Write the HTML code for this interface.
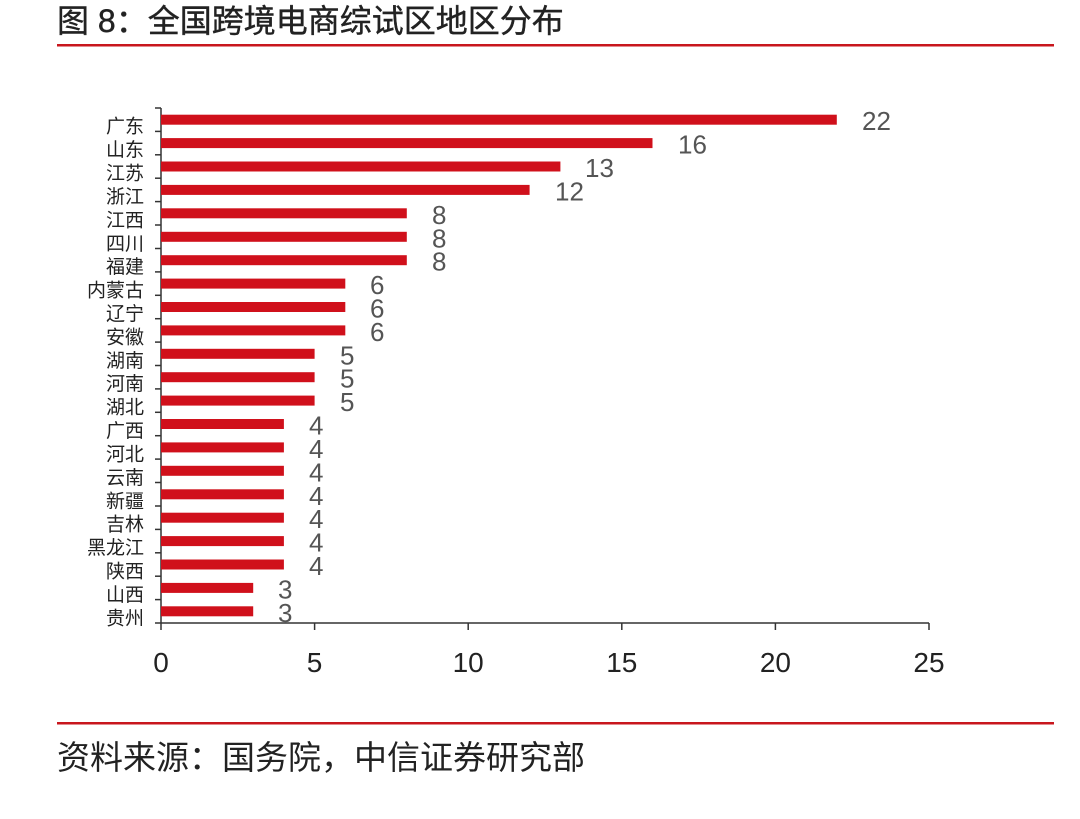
<!DOCTYPE html>
<html><head><meta charset="utf-8"><style>
body{margin:0;background:#fff;}
svg{display:block;}
</style></head><body>
<svg width="1080" height="819" xmlns="http://www.w3.org/2000/svg" font-family="'Liberation Sans','Noto Sans CJK SC',sans-serif">
<rect width="1080" height="819" fill="#fff"/>
<text x="57" y="32" font-size="32" fill="#222" stroke="#222" stroke-width="0.4">图 8：全国跨境电商综试区地区分布</text>
<rect x="57" y="44" width="997" height="2.5" fill="#c8161d"/>
<g stroke="#333" stroke-width="1.5">
<line x1="161" y1="108" x2="161" y2="623"/>
<line x1="161" y1="623" x2="929" y2="623"/>
<line x1="155" y1="108" x2="161" y2="108"/><line x1="155" y1="131.4" x2="161" y2="131.4"/><line x1="155" y1="154.8" x2="161" y2="154.8"/><line x1="155" y1="178.2" x2="161" y2="178.2"/><line x1="155" y1="201.6" x2="161" y2="201.6"/><line x1="155" y1="225.0" x2="161" y2="225.0"/><line x1="155" y1="248.5" x2="161" y2="248.5"/><line x1="155" y1="271.9" x2="161" y2="271.9"/><line x1="155" y1="295.3" x2="161" y2="295.3"/><line x1="155" y1="318.7" x2="161" y2="318.7"/><line x1="155" y1="342.1" x2="161" y2="342.1"/><line x1="155" y1="365.5" x2="161" y2="365.5"/><line x1="155" y1="388.9" x2="161" y2="388.9"/><line x1="155" y1="412.3" x2="161" y2="412.3"/><line x1="155" y1="435.7" x2="161" y2="435.7"/><line x1="155" y1="459.1" x2="161" y2="459.1"/><line x1="155" y1="482.5" x2="161" y2="482.5"/><line x1="155" y1="506.0" x2="161" y2="506.0"/><line x1="155" y1="529.4" x2="161" y2="529.4"/><line x1="155" y1="552.8" x2="161" y2="552.8"/><line x1="155" y1="576.2" x2="161" y2="576.2"/><line x1="155" y1="599.6" x2="161" y2="599.6"/><line x1="155" y1="623" x2="161" y2="623"/>
<line x1="161" y1="623" x2="161" y2="630"/><line x1="314.6" y1="623" x2="314.6" y2="630"/><line x1="468.2" y1="623" x2="468.2" y2="630"/><line x1="621.8" y1="623" x2="621.8" y2="630"/><line x1="775.4" y1="623" x2="775.4" y2="630"/><line x1="929" y1="623" x2="929" y2="630"/>
</g>
<g font-size="28" fill="#222" text-anchor="middle">
<text x="161" y="672">0</text><text x="314.6" y="672">5</text><text x="468.2" y="672">10</text><text x="621.8" y="672">15</text><text x="775.4" y="672">20</text><text x="929" y="672">25</text>
</g>
<g fill="#d0101b">
<rect x="161" y="114.7" width="675.8" height="10"/>
<rect x="161" y="138.1" width="491.5" height="10"/>
<rect x="161" y="161.5" width="399.4" height="10"/>
<rect x="161" y="184.9" width="368.6" height="10"/>
<rect x="161" y="208.3" width="245.8" height="10"/>
<rect x="161" y="231.8" width="245.8" height="10"/>
<rect x="161" y="255.2" width="245.8" height="10"/>
<rect x="161" y="278.6" width="184.3" height="10"/>
<rect x="161" y="302.0" width="184.3" height="10"/>
<rect x="161" y="325.4" width="184.3" height="10"/>
<rect x="161" y="348.8" width="153.6" height="10"/>
<rect x="161" y="372.2" width="153.6" height="10"/>
<rect x="161" y="395.6" width="153.6" height="10"/>
<rect x="161" y="419.0" width="122.9" height="10"/>
<rect x="161" y="442.4" width="122.9" height="10"/>
<rect x="161" y="465.8" width="122.9" height="10"/>
<rect x="161" y="489.3" width="122.9" height="10"/>
<rect x="161" y="512.7" width="122.9" height="10"/>
<rect x="161" y="536.1" width="122.9" height="10"/>
<rect x="161" y="559.5" width="122.9" height="10"/>
<rect x="161" y="582.9" width="92.2" height="10"/>
<rect x="161" y="606.3" width="92.2" height="10"/>
</g>
<g font-size="19" fill="#222" text-anchor="end">
<text x="144" y="132.7">广东</text><text x="144" y="156.1">山东</text><text x="144" y="179.5">江苏</text><text x="144" y="202.9">浙江</text><text x="144" y="226.3">江西</text><text x="144" y="249.8">四川</text><text x="144" y="273.2">福建</text><text x="144" y="296.6">内蒙古</text><text x="144" y="320.0">辽宁</text><text x="144" y="343.4">安徽</text><text x="144" y="366.8">湖南</text><text x="144" y="390.2">河南</text><text x="144" y="413.6">湖北</text><text x="144" y="437.0">广西</text><text x="144" y="460.4">河北</text><text x="144" y="483.8">云南</text><text x="144" y="507.3">新疆</text><text x="144" y="530.7">吉林</text><text x="144" y="554.1">黑龙江</text><text x="144" y="577.5">陕西</text><text x="144" y="600.9">山西</text><text x="144" y="624.3">贵州</text>
</g>
<g font-size="26" fill="#555">
<text x="862" y="130.2">22</text><text x="678" y="153.6">16</text><text x="585" y="177.0">13</text><text x="555" y="200.4">12</text><text x="432" y="223.8">8</text><text x="432" y="247.3">8</text><text x="432" y="270.7">8</text><text x="370" y="294.1">6</text><text x="370" y="317.5">6</text><text x="370" y="340.9">6</text><text x="340" y="364.3">5</text><text x="340" y="387.7">5</text><text x="340" y="411.1">5</text><text x="309" y="434.5">4</text><text x="309" y="457.9">4</text><text x="309" y="481.3">4</text><text x="309" y="504.8">4</text><text x="309" y="528.2">4</text><text x="309" y="551.6">4</text><text x="309" y="575.0">4</text><text x="278" y="598.4">3</text><text x="278" y="621.8">3</text>
</g>
<rect x="57" y="722" width="997" height="2.5" fill="#c8161d"/>
<text x="57" y="769" font-size="33" fill="#222">资料来源：国务院，中信证券研究部</text>
</svg>
</body></html>
